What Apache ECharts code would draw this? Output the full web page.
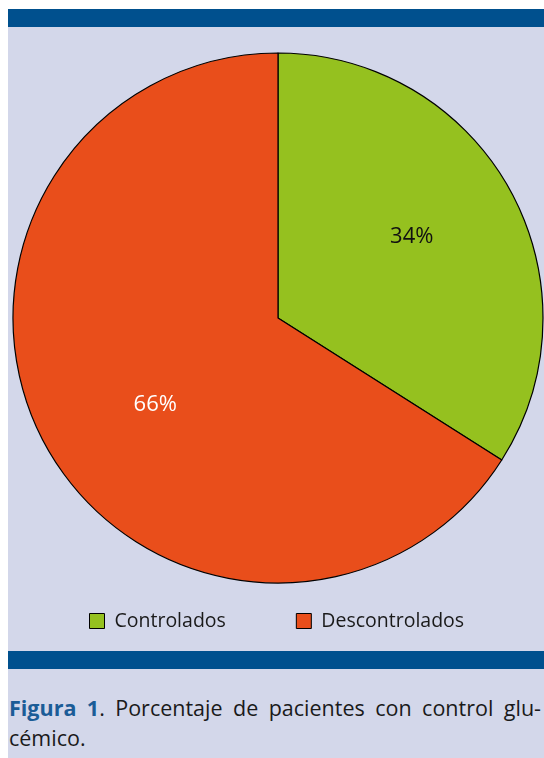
<!DOCTYPE html>
<html>
<head>
<meta charset="utf-8">
<script src="https://cdn.jsdelivr.net/npm/echarts@6/dist/echarts.min.js"></script>
<style>
  html, body { margin: 0; padding: 0; background: #ffffff; }
  #page { position: absolute; left: 8px; top: 9px; width: 536px; height: 749px; background: #d3d7ea; }
  .bar { position: absolute; left: 0; width: 536px; height: 18px; background: #00508e; }
  #chart { position: absolute; left: 0; top: 18px; width: 536px; height: 624px; }
  #caption { position: absolute; left: 1px; top: 684px; width: 532px; font-family: "Open Sans", "Noto Sans", sans-serif; font-size: 21.5px; line-height: 30px; color: #1a1a1a; }
  #caption .l1 { text-align: justify; text-align-last: justify; white-space: nowrap; }
  #caption b { color: #1b5c97; font-weight: 700; }
</style>
</head>
<body>
<div id="page">
  <div class="bar" style="top:0"></div>
  <div id="chart"></div>
  <div class="bar" style="top:642px"></div>
  <div id="caption">
    <div class="l1"><b>Figura 1</b>. Porcentaje de pacientes con control glu-</div>
    <div>cémico.</div>
  </div>
</div>
<script>
const categories = ["Controlados", "Descontrolados"];
const values = [34, 66];
const colors = ["#95c11f", "#e94e1b"];
const labelColors = ["#111111", "#ffffff"];

const chart = echarts.init(document.getElementById('chart'), null, { renderer: 'canvas' });
chart.setOption({
  animation: false,
  backgroundColor: 'transparent',
  legend: {
    data: categories,
    left: 76,
    top: 579,
    itemWidth: 15,
    itemHeight: 15,
    itemGap: 70,
    icon: 'rect',
    itemStyle: { borderColor: '#000', borderWidth: 1 },
    textStyle: { fontFamily: '"Open Sans", "Noto Sans", sans-serif', fontSize: 19.5, color: '#1a1a1a', padding: [0, 0, 0, 5] }
  },
  series: [{
    type: 'pie',
    center: [270, 291],
    radius: [0, 265],
    startAngle: 90,
    clockwise: true,
    silent: true,
    itemStyle: { borderColor: '#000', borderWidth: 1.2 },
    label: {
      show: true,
      position: 'inside',
      formatter: '{c}%',
      fontFamily: '"Open Sans", "Noto Sans", sans-serif',
      fontSize: 22
    },
    labelLayout: function (p) {
      return p.dataIndex === 0 ? { dx: 15, dy: -16 } : { dx: -4, dy: 21 };
    },
    labelLine: { show: false },
    data: categories.map((c, i) => ({
      name: c,
      value: values[i],
      itemStyle: { color: colors[i] },
      label: { color: labelColors[i] }
    }))
  }]
});
</script>
</body>
</html>
